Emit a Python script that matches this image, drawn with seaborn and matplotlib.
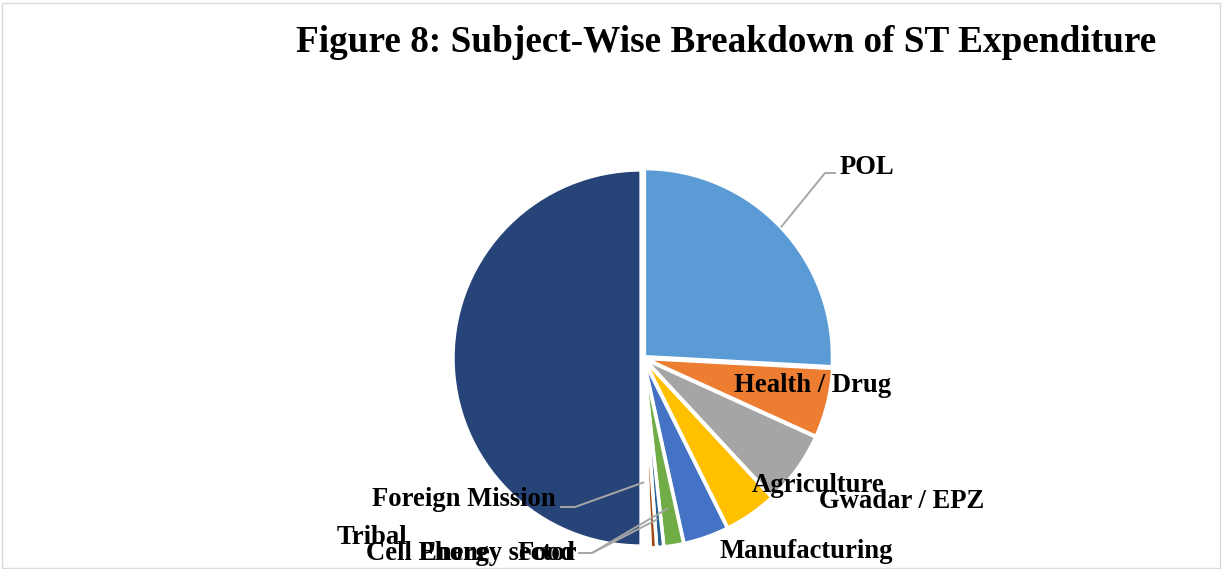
import numpy as np
import matplotlib
matplotlib.use("Agg")
import matplotlib.pyplot as plt
import seaborn as sns
from matplotlib.patches import Rectangle

# ---- data (share of ST expenditure, clockwise from 12 o'clock) ----
categories = ["POL", "Health / Drug", "Agriculture", "Gwadar / EPZ", "Manufacturing",
              "Food", "Energy sector", "Cell Phone", "Tribal", "Foreign Mission", "Total"]
values = [51.7, 11.9, 12.6, 9.1, 7.8, 3.4, 1.2, 1.1, 0.6, 0.6, 100.0]
show_label = [True, True, True, True, True, True, True, True, True, True, False]

# ---- styles ----
colors = ["#5B9BD5", "#ED7D31", "#A5A5A5", "#FFC000", "#4472C4", "#70AD47",
          "#255E91", "#9E480E", "#636363", "#997300", "#264478"]

sns.set_theme(style="white")
plt.rcParams["font.family"] = ["Liberation Serif", "DejaVu Serif"]

W, H = 1222, 569
fig = plt.figure(figsize=(W / 100, H / 100), dpi=100)
fig.patch.set_facecolor("white")

# pie placement in pixels (from top-left)
cx, cy, R = 643, 358, 190
ax = fig.add_axes([(cx - R) / W, (H - cy - R) / H, 2 * R / W, 2 * R / H])

def px(x, y):
    """figure pixel (from top-left) -> pie data coords"""
    return ((x - cx) / R, (cy - y) / R)

explode = [0.01] * len(values)
wedges, _ = ax.pie(values, colors=colors, startangle=90, counterclock=False,
                   radius=0.99, explode=explode,
                   wedgeprops=dict(edgecolor="white", linewidth=2.5))
ax.set_xlim(-1, 1)
ax.set_ylim(-1, 1)
ax.set_aspect("auto")
ax.axis("off")

# label positions (pixel centres) and leader lines
label_pos = {
    "POL": (867, 167),
    "Health / Drug": (813, 385),
    "Agriculture": (818, 485),
    "Gwadar / EPZ": (902, 502),
    "Manufacturing": (806, 552),
    "Food": (546, 553),
    "Energy sector": (498, 553),
    "Cell Phone": (428, 553),
    "Tribal": (372, 537),
    "Foreign Mission": (464, 500),
}
leaders = {
    "POL": (1.0, [(825, 173), (836, 173)]),
    "Foreign Mission": (0.65, [(575, 507), (560, 507)]),
    "Food": (0.80, [(592, 553), (578, 553)]),
    "Energy sector": (0.85, [(592, 553), (578, 553)]),
}

lab_fs = 19.2
for i, name in enumerate(categories):
    if not show_label[i]:
        continue
    lx, ly = px(*label_pos[name])
    ax.text(lx, ly, name, ha="center", va="center", fontsize=lab_fs,
            fontweight="bold", color="black", clip_on=False)
    if name in leaders:
        r, pts = leaders[name]
        w = wedges[i]
        th = np.deg2rad((w.theta1 + w.theta2) / 2)
        x0 = w.center[0] + r * w.r * np.cos(th)
        y0 = w.center[1] + r * w.r * np.sin(th)
        xs = [x0] + [px(*p)[0] for p in pts]
        ys = [y0] + [px(*p)[1] for p in pts]
        ax.plot(xs, ys, color="#A6A6A6", lw=1.4, clip_on=False, solid_capstyle="butt")

fig.text(726 / W, 1 - 42 / H, "Figure 8: Subject-Wise Breakdown of ST Expenditure",
         ha="center", va="center", fontsize=26.8, fontweight="bold", color="black")

# light outer border
fig.add_artist(Rectangle((1.5 / W, 1.5 / H), 1 - 4 / W, 1 - 4 / H,
                         transform=fig.transFigure, fill=False,
                         edgecolor="#D9D9D9", lw=1.0))

fig.savefig("out.png", dpi=100)
